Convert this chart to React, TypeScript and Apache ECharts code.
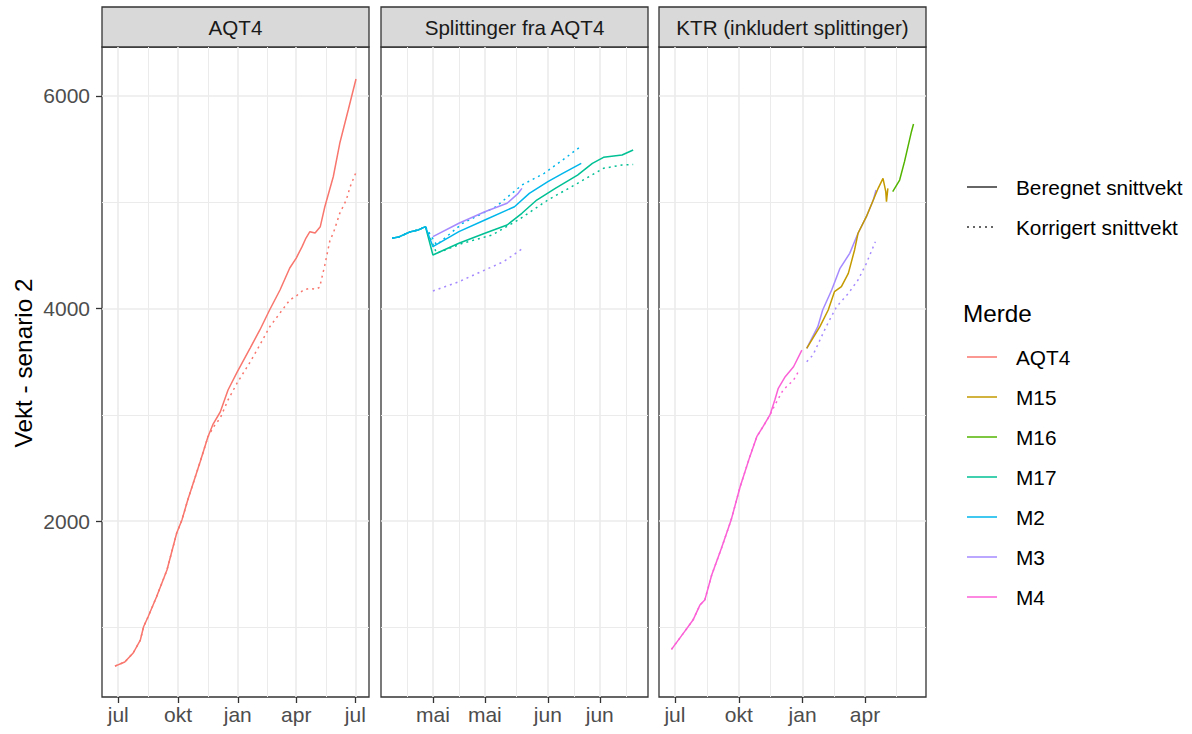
import React, { useEffect, useRef } from 'react';
import * as echarts from 'echarts';

// ---------- data ----------
const MONTHS = ['jan', 'feb', 'mar', 'apr', 'mai', 'jun', 'jul', 'aug', 'sep', 'okt', 'nov', 'des'];
const PANEL_TITLES = ['AQT4', 'Splittinger fra AQT4', 'KTR (inkludert splittinger)'];
const PANEL_X_MIN = ['2020-06-06', '2021-04-17', '2020-06-08'];
const PANEL_X_MAX = ['2021-07-22', '2021-06-28', '2021-06-28'];
const X_BREAKS = [
  ['2020-07-01', '2020-10-01', '2021-01-01', '2021-04-01', '2021-07-01'],
  ['2021-05-01', '2021-05-15', '2021-06-01', '2021-06-15'],
  ['2020-07-01', '2020-10-01', '2021-01-01', '2021-04-01'],
];
const Y_MIN = 344;
const Y_MAX = 6461;
const Y_BREAKS = [2000, 4000, 6000];
const Y_MINOR = [1000, 3000, 5000];

const MERDE = ['AQT4', 'M15', 'M16', 'M17', 'M2', 'M3', 'M4'];
const MERDE_COLORS = ['#F8766D', '#C49A00', '#53B400', '#00C094', '#00B6EB', '#A58AFF', '#FB61D7'];
const LINETYPES = ['Beregnet snittvekt', 'Korrigert snittvekt'];

type Pt = [string, number];

// Panel 1: AQT4
const AQT4_BEREGNET: Pt[] = [
  ['2020-06-26', 635], ['2020-07-11', 673], ['2020-07-24', 758], ['2020-08-04', 880],
  ['2020-08-09', 1005], ['2020-08-16', 1099], ['2020-08-29', 1287], ['2020-09-14', 1539],
  ['2020-09-29', 1887], ['2020-10-07', 2009], ['2020-10-16', 2198], ['2020-11-04', 2555],
  ['2020-11-16', 2791], ['2020-11-24', 2913], ['2020-12-05', 3026], ['2020-12-17', 3233],
  ['2020-12-31', 3402], ['2021-01-20', 3628], ['2021-02-04', 3798], ['2021-02-19', 3986],
  ['2021-03-07', 4174], ['2021-03-22', 4381], ['2021-04-01', 4475], ['2021-04-10', 4582],
  ['2021-04-16', 4663], ['2021-04-22', 4723], ['2021-04-30', 4711], ['2021-05-08', 4770],
  ['2021-05-15', 4958], ['2021-05-28', 5240], ['2021-06-07', 5555], ['2021-06-20', 5868],
  ['2021-07-02', 6160],
];
const AQT4_KORRIGERT: Pt[] = [
  ['2020-06-26', 635], ['2020-07-11', 673], ['2020-07-24', 758], ['2020-08-04', 880],
  ['2020-08-09', 1005], ['2020-08-16', 1099], ['2020-08-29', 1287], ['2020-09-14', 1539],
  ['2020-09-29', 1887], ['2020-10-07', 2009], ['2020-10-16', 2198], ['2020-11-04', 2555],
  ['2020-11-16', 2791], ['2020-11-24', 2880], ['2020-12-05', 2969], ['2020-12-17', 3140],
  ['2020-12-31', 3299], ['2021-01-20', 3496], ['2021-02-04', 3657], ['2021-02-19', 3826],
  ['2021-03-07', 3958], ['2021-03-22', 4080], ['2021-04-01', 4118], ['2021-04-12', 4174],
  ['2021-04-22', 4190], ['2021-05-01', 4180], ['2021-05-07', 4200], ['2021-05-15', 4409],
  ['2021-05-23', 4645], ['2021-05-28', 4708], ['2021-06-07', 4896], ['2021-06-17', 5021],
  ['2021-06-23', 5146], ['2021-07-02', 5282],
];

// Panel 2: Splittinger fra AQT4
const SPLIT_PRE: Pt[] = [
  ['2021-04-20', 4661], ['2021-04-22', 4676], ['2021-04-24', 4708], ['2021-04-25', 4723],
  ['2021-04-27', 4739], ['2021-04-29', 4770],
];
const SPLIT_M17_BEREGNET: Pt[] = [
  ['2021-05-01', 4504], ['2021-05-08', 4614], ['2021-05-15', 4708], ['2021-05-21', 4786],
  ['2021-05-25', 4896], ['2021-05-29', 5021], ['2021-06-03', 5131], ['2021-06-09', 5256],
  ['2021-06-13', 5366], ['2021-06-16', 5423], ['2021-06-21', 5445], ['2021-06-24', 5492],
];
const SPLIT_M17_KORRIGERT: Pt[] = [
  ['2021-05-02', 4520], ['2021-05-09', 4614], ['2021-05-17', 4692], ['2021-05-24', 4833],
  ['2021-06-01', 5021], ['2021-06-09', 5178], ['2021-06-16', 5319], ['2021-06-21', 5351],
  ['2021-06-24', 5356],
];
const SPLIT_M2_BEREGNET: Pt[] = [
  ['2021-05-01', 4582], ['2021-05-08', 4723], ['2021-05-15', 4833], ['2021-05-23', 4958],
  ['2021-05-27', 5084], ['2021-06-01', 5194], ['2021-06-05', 5272], ['2021-06-10', 5366],
];
const SPLIT_M2_KORRIGERT: Pt[] = [
  ['2021-05-02', 4598], ['2021-05-09', 4802], ['2021-05-18', 4958], ['2021-05-25', 5162],
  ['2021-05-31', 5272], ['2021-06-05', 5398], ['2021-06-10', 5529],
];
const SPLIT_M3_BEREGNET: Pt[] = [
  ['2021-05-01', 4676], ['2021-05-08', 4802], ['2021-05-15', 4911], ['2021-05-21', 4990],
  ['2021-05-24', 5084], ['2021-05-25', 5131],
];
const SPLIT_M3_KORRIGERT: Pt[] = [
  ['2021-05-01', 4165], ['2021-05-08', 4252], ['2021-05-13', 4331], ['2021-05-20', 4440],
  ['2021-05-25', 4560],
];

// Panel 3: KTR
const KTR_M4_BEREGNET: Pt[] = [
  ['2020-06-26', 792], ['2020-07-13', 943], ['2020-07-27', 1068], ['2020-08-06', 1209],
  ['2020-08-13', 1256], ['2020-08-23', 1492], ['2020-09-06', 1743], ['2020-09-20', 2009],
  ['2020-10-03', 2323], ['2020-10-17', 2606], ['2020-10-27', 2794], ['2020-11-05', 2888],
  ['2020-11-15', 2998], ['2020-11-22', 3139], ['2020-11-27', 3249], ['2020-12-07', 3358],
  ['2020-12-19', 3452], ['2020-12-31', 3609],
];
const KTR_M4_KORRIGERT: Pt[] = [
  ['2020-06-26', 792], ['2020-07-13', 943], ['2020-07-27', 1068], ['2020-08-06', 1209],
  ['2020-08-13', 1256], ['2020-08-23', 1492], ['2020-09-06', 1743], ['2020-09-20', 2009],
  ['2020-10-03', 2323], ['2020-10-17', 2606], ['2020-10-27', 2794], ['2020-11-05', 2888],
  ['2020-11-15', 2998], ['2020-11-22', 3090], ['2020-12-04', 3233], ['2020-12-19', 3327],
  ['2020-12-26', 3405],
];
const KTR_M3_BEREGNET: Pt[] = [
  ['2021-01-07', 3625], ['2021-01-23', 3829], ['2021-01-30', 3986], ['2021-02-12', 4174],
  ['2021-02-24', 4378], ['2021-03-10', 4519], ['2021-03-22', 4708], ['2021-04-03', 4864],
  ['2021-04-13', 5021], ['2021-04-17', 5115],
];
const KTR_M3_KORRIGERT: Pt[] = [
  ['2021-01-07', 3499], ['2021-01-16', 3562], ['2021-02-04', 3829], ['2021-02-19', 4017],
  ['2021-03-08', 4143], ['2021-03-22', 4268], ['2021-04-03', 4425], ['2021-04-16', 4629],
];
const KTR_M15_BEREGNET: Pt[] = [
  ['2021-01-07', 3625], ['2021-01-26', 3829], ['2021-02-07', 3986], ['2021-02-16', 4158],
  ['2021-02-26', 4206], ['2021-03-08', 4331], ['2021-03-17', 4551], ['2021-03-22', 4708],
  ['2021-04-03', 4864], ['2021-04-13', 5021], ['2021-04-20', 5131], ['2021-04-27', 5225],
  ['2021-05-01', 5100], ['2021-05-02', 5006], ['2021-05-04', 5131],
];
const KTR_M16_BEREGNET: Pt[] = [
  ['2021-05-11', 5100], ['2021-05-21', 5209], ['2021-05-28', 5382], ['2021-06-02', 5523],
  ['2021-06-07', 5664], ['2021-06-10', 5736],
];

const SERIES_DEFS: { panel: number; merde: string; lt: number; data: Pt[] }[] = [
  { panel: 0, merde: 'AQT4', lt: 1, data: AQT4_KORRIGERT },
  { panel: 0, merde: 'AQT4', lt: 0, data: AQT4_BEREGNET },
  { panel: 1, merde: 'M17', lt: 1, data: [...SPLIT_PRE, ...SPLIT_M17_KORRIGERT] },
  { panel: 1, merde: 'M17', lt: 0, data: [...SPLIT_PRE, ...SPLIT_M17_BEREGNET] },
  { panel: 1, merde: 'M2', lt: 1, data: [...SPLIT_PRE, ...SPLIT_M2_KORRIGERT] },
  { panel: 1, merde: 'M2', lt: 0, data: [...SPLIT_PRE, ...SPLIT_M2_BEREGNET] },
  { panel: 1, merde: 'M3', lt: 1, data: SPLIT_M3_KORRIGERT },
  { panel: 1, merde: 'M3', lt: 0, data: SPLIT_M3_BEREGNET },
  { panel: 2, merde: 'M4', lt: 1, data: KTR_M4_KORRIGERT },
  { panel: 2, merde: 'M4', lt: 0, data: KTR_M4_BEREGNET },
  { panel: 2, merde: 'M3', lt: 1, data: KTR_M3_KORRIGERT },
  { panel: 2, merde: 'M3', lt: 0, data: KTR_M3_BEREGNET },
  { panel: 2, merde: 'M15', lt: 0, data: KTR_M15_BEREGNET },
  { panel: 2, merde: 'M16', lt: 0, data: KTR_M16_BEREGNET },
];

// ---------- layout / style ----------
const FONT = '"Liberation Sans", Arial, sans-serif';
const PANEL_LEFT = [102, 381, 659];
const PANEL_W = 267;
const PANEL_TOP = 47;
const PANEL_H = 650;
const STRIP_TOP = 7;
const DOT: number[] = [2, 4];

const ts = (s: string) => {
  const [y, m, d] = s.split('-').map(Number);
  return new Date(y, m - 1, d).getTime();
};

function minorBreaks(majors: number[], lo: number, hi: number): number[] {
  const out: number[] = [];
  for (let i = 0; i < majors.length - 1; i++) out.push((majors[i] + majors[i + 1]) / 2);
  const n = majors.length;
  out.push(majors[0] - (majors[1] - majors[0]) / 2);
  out.push(majors[n - 1] + (majors[n - 1] - majors[n - 2]) / 2);
  return out.filter((v) => v > lo && v < hi);
}

export default function App() {
  const ref = useRef<HTMLDivElement>(null);
  useEffect(() => {
    if (!ref.current) return;
    const chart = echarts.init(ref.current, undefined, { renderer: 'svg' });

    const grids: any[] = [];
    const xAxes: any[] = [];
    const yAxes: any[] = [];
    for (let p = 0; p < 3; p++) {
      grids.push({
        left: PANEL_LEFT[p], top: PANEL_TOP, width: PANEL_W, height: PANEL_H,
        show: true, borderColor: '#333333', borderWidth: 1.3, backgroundColor: '#ffffff',
        containLabel: false,
      });
      const lo = ts(PANEL_X_MIN[p]);
      const hi = ts(PANEL_X_MAX[p]);
      const majors = X_BREAKS[p].map(ts);
      const minors = minorBreaks(majors, lo, hi);
      xAxes.push({
        type: 'value', gridIndex: p, min: lo, max: hi, position: 'bottom', scale: true,
        axisLine: { show: false },
        axisTick: { show: false, customValues: minors },
        axisLabel: { show: false, customValues: minors },
        splitLine: { show: true, lineStyle: { color: '#ebebeb', width: 1 } },
      });
      xAxes.push({
        type: 'value', gridIndex: p, min: lo, max: hi, position: 'bottom', scale: true,
        axisLine: { show: false },
        axisTick: { show: true, customValues: majors, length: 6, lineStyle: { color: '#333333', width: 1.3 } },
        axisLabel: {
          show: true, customValues: majors, margin: 7,
          color: '#4d4d4d', fontSize: 21, fontFamily: FONT,
          formatter: (v: number) => MONTHS[new Date(v).getMonth()],
          hideOverlap: false, showMinLabel: true, showMaxLabel: true,
        },
        splitLine: { show: true, lineStyle: { color: '#ebebeb', width: 1.6 } },
      });
      yAxes.push({
        type: 'value', gridIndex: p, min: Y_MIN, max: Y_MAX, position: 'left',
        axisLine: { show: false },
        axisTick: { show: false, customValues: Y_MINOR },
        axisLabel: { show: false, customValues: Y_MINOR },
        splitLine: { show: true, lineStyle: { color: '#ebebeb', width: 1 } },
      });
      yAxes.push({
        type: 'value', gridIndex: p, min: Y_MIN, max: Y_MAX, position: 'left',
        axisLine: { show: false },
        axisTick: { show: p === 0, customValues: Y_BREAKS, length: 6, lineStyle: { color: '#333333', width: 1.3 } },
        axisLabel: {
          show: p === 0, customValues: Y_BREAKS, margin: 12,
          color: '#4d4d4d', fontSize: 21, fontFamily: FONT,
          formatter: (v: number) => String(v),
        },
        splitLine: { show: true, lineStyle: { color: '#ebebeb', width: 1.6 } },
      });
    }

    const series = SERIES_DEFS.map((s) => {
      const color = MERDE_COLORS[MERDE.indexOf(s.merde)];
      return {
        type: 'line',
        name: s.merde + ' ' + LINETYPES[s.lt],
        xAxisIndex: s.panel * 2 + 1,
        yAxisIndex: s.panel * 2 + 1,
        data: s.data.map(([d, v]) => [ts(d), v]),
        showSymbol: false,
        symbol: 'none',
        silent: true,
        z: 3,
        itemStyle: { color },
        lineStyle: { color, width: 1.5, type: s.lt === 1 ? DOT : 'solid' },
      };
    });

    const graphics: any[] = [];
    for (let p = 0; p < 3; p++) {
      graphics.push({
        type: 'rect', silent: true,
        shape: { x: PANEL_LEFT[p], y: STRIP_TOP, width: PANEL_W, height: PANEL_TOP - STRIP_TOP },
        style: { fill: '#d9d9d9', stroke: '#333333', lineWidth: 1.3 },
      });
      graphics.push({
        type: 'text', silent: true,
        x: PANEL_LEFT[p] + PANEL_W / 2, y: (STRIP_TOP + PANEL_TOP) / 2,
        style: { text: PANEL_TITLES[p], fill: '#1a1a1a', fontSize: 20.6, fontFamily: FONT, align: 'center', verticalAlign: 'middle' },
      });
    }
    graphics.push({
      type: 'text', silent: true, x: 23, y: 363, rotation: Math.PI / 2,
      style: { text: 'Vekt - senario 2', fill: '#000000', fontSize: 24.3, fontFamily: FONT, align: 'center', verticalAlign: 'middle' },
    });
    LINETYPES.forEach((lt, i) => {
      const y = 187 + i * 40;
      graphics.push({
        type: 'line', silent: true, shape: { x1: 967, y1: y, x2: 997, y2: y },
        style: { stroke: '#333333', lineWidth: 1.5, lineDash: i === 1 ? DOT : null },
      });
      graphics.push({
        type: 'text', silent: true, x: 1016, y,
        style: { text: lt, fill: '#000000', fontSize: 20.8, fontFamily: FONT, align: 'left', verticalAlign: 'middle' },
      });
    });
    graphics.push({
      type: 'text', silent: true, x: 963, y: 313,
      style: { text: 'Merde', fill: '#000000', fontSize: 24.3, fontFamily: FONT, align: 'left', verticalAlign: 'middle' },
    });
    MERDE.forEach((m, i) => {
      const y = 357 + i * 40;
      graphics.push({
        type: 'line', silent: true, shape: { x1: 967, y1: y, x2: 997, y2: y },
        style: { stroke: MERDE_COLORS[i], lineWidth: 1.5 },
      });
      graphics.push({
        type: 'text', silent: true, x: 1016, y,
        style: { text: m, fill: '#000000', fontSize: 20.8, fontFamily: FONT, align: 'left', verticalAlign: 'middle' },
      });
    });

    chart.setOption({
      animation: false,
      backgroundColor: '#ffffff',
      grid: grids,
      xAxis: xAxes,
      yAxis: yAxes,
      series,
      graphic: graphics,
    });
    return () => chart.dispose();
  }, []);

  return (
    <div
      ref={ref}
      style={{ position: 'absolute', left: 0, top: 0, width: 1192, height: 734 }}
    />
  );
}
